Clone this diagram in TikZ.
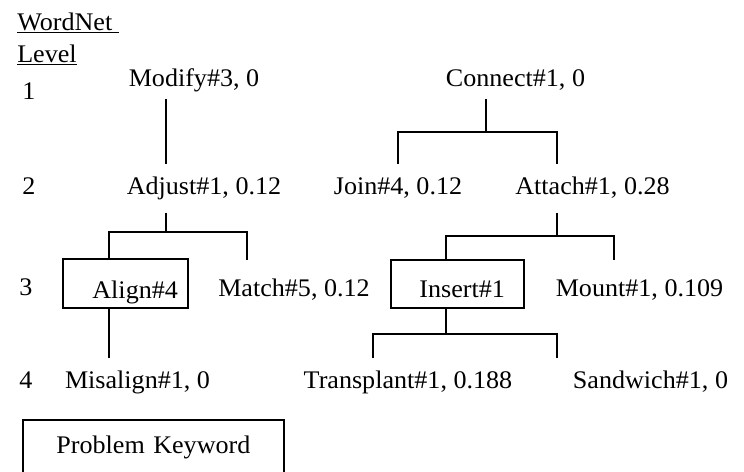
\documentclass[tikz,border=0pt]{standalone}
\usepackage{fontspec}
\setmainfont{Liberation Serif}[FakeStretch=1.03]

\tikzset{
    word/.style={anchor=base, inner xsep=0pt, inner ysep=9pt, text height=13.5pt, text depth=4.75pt},
    lvl/.style={anchor=base west, inner sep=0pt},
    keybox/.style={draw, line width=1.4pt, anchor=north west, inner ysep=6.4pt, align=right},
    link/.style={line width=1.4pt},
}

\begin{document}
\begin{tikzpicture}[x=0.75pt, y=-0.75pt, font=\fontsize{19}{22}\selectfont]
    \useasboundingbox (0,0) rectangle (744,472);
    \clip (0,0) rectangle (744,472);

    \node[lvl] (WordNet) at (17,30) {$\underline{\hbox{WordNet\ }}$};
    \node[lvl] (Level) at (17,62) {$\underline{\hbox{Level}}$};
    \foreach \n/\x/\y in {1/22/99, 2/22/194, 3/19/295, 4/19/388} {
        \node[lvl] (lvl\n) at (\x,\y) {\n};
    }

    \node[word, inner ysep=5pt] (Modify) at (194,86) {Modify\#3, 0};
    \node[word, inner ysep=5pt] (Connect) at (515.5,86) {Connect\#1, 0};
    \node[word] (Adjust) at (204,194) {Adjust\#1, 0.12};
    \node[word] (Join) at (398,194) {Join\#4, 0.12};
    \node[word] (Attach) at (592.5,194) {Attach\#1, 0.28};
    \node[keybox, text width=78.75pt, inner xsep=7.5pt, text height=23.6pt, text depth=0.4pt] (Align) at (62,258) {Align\#4};
    \node[word, inner ysep=13.5pt] (Match) at (294,296) {Match\#5, 0.12};
    \node[keybox, text width=71.25pt, inner xsep=14.25pt, text height=22.1pt, text depth=1.1pt] (Insert) at (390,259) {Insert\#1};
    \node[word, inner ysep=13.5pt] (Mount) at (639.5,296) {Mount\#1, 0.109};
    \node[word] (Misalign) at (137.5,388) {Misalign\#1, 0};
    \node[word] (Transplant) at (408,388) {Transplant\#1, 0.188};
    \node[word] (Sandwich) at (650.5,388) {Sandwich\#1, 0};
    \node[keybox, align=center, text width=180.75pt, inner xsep=7.5pt, text height=19.1pt, text depth=15pt] (Keyword) at (22,419) {Problem Keyword};

    \coordinate (xA) at (166,0);
    \coordinate (xAl) at (109,0);
    \coordinate (xM) at (247,0);
    \coordinate (xC) at (486,0);
    \coordinate (xJ) at (398,0);
    \coordinate (xT) at (557,0);
    \coordinate (xI) at (446,0);
    \coordinate (xMo) at (614,0);
    \coordinate (xTr) at (373,0);

    \draw[link] (Modify.south -| xA) -- (Adjust.north -| xA);
    \draw[link] (Adjust.south -| xA) -- ++(0,19) coordinate (forkA);
    \draw[link] (Align.north -| xAl) |- (forkA) -| (Match.north -| xM);
    \draw[link] (Align.south -| xAl) -- (Misalign.north -| xAl);

    \draw[link] (Connect.south -| xC) -- ++(0,33) coordinate (forkC);
    \draw[link] (Join.north -| xJ) |- (forkC) -| (Attach.north -| xT);
    \draw[link] (Attach.south -| xT) -- ++(0,23) coordinate (forkT);
    \draw[link] (Insert.north -| xI) |- (forkT) -| (Mount.north -| xMo);
    \draw[link] (Insert.south -| xI) -- ++(0,25) coordinate (forkI);
    \draw[link] (Transplant.north -| xTr) |- (forkI) -| (Sandwich.north -| xT);
\end{tikzpicture}
\end{document}
